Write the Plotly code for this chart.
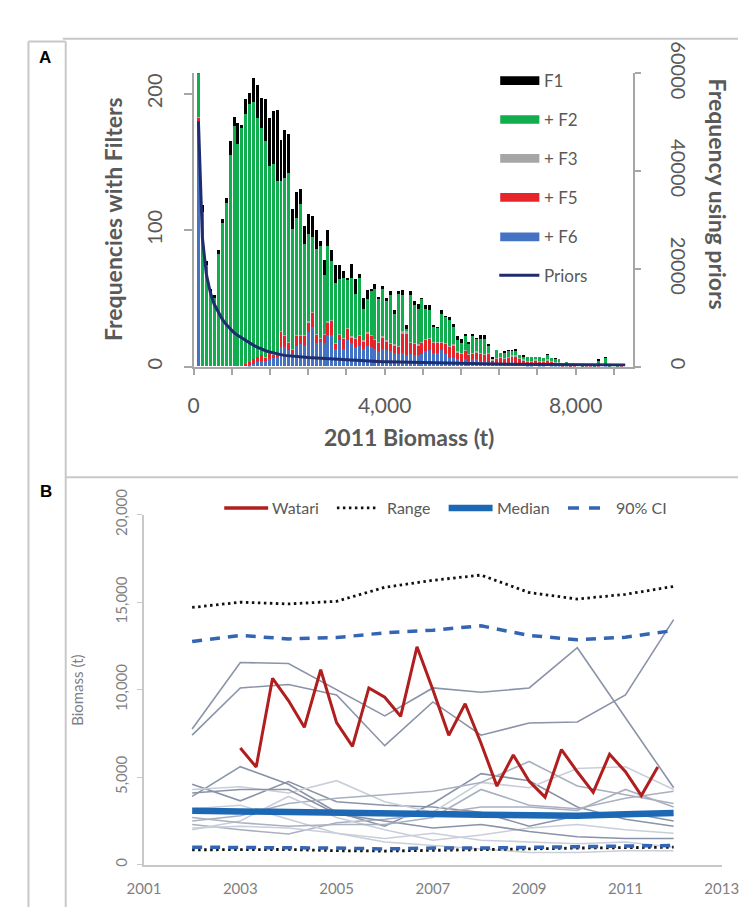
import plotly.graph_objects as go

W, H = 755, 910
def px(x): return x / W
def py(y): return 1 - y / H

FONT = "Lato"
GREY_TXT = "#595959"

# ---------------- Panel A data ----------------
bin_start = 100      # centre of first biomass bin (t)
bin_width = 82       # biomass bin width (t)

f1 = [240, 118, 77, 57, 52, 85, 108, 123, 165, 183,
      178, 177, 196, 200, 211, 206, 197, 196, 182, 187,
      188, 166, 173, 170, 115, 128, 130, 103, 112, 110,
      100, 92, 78, 100, 85, 74, 74, 70, 65, 75,
      64, 68, 50, 56, 57, 60, 51, 59, 50, 55,
      41, 55, 56, 30, 55, 48, 46, 50, 45, 45,
      30, 29, 41, 37, 36, 31, 22, 20, 24, 18,
      24, 21, 23, 23, 16, 7, 12, 10, 11, 12,
      12, 13, 8, 8, 7, 7, 7, 7, 6, 9,
      6, 6, 5, 2, 3, 1, 2, 0, 1, 2,
      2, 1, 5, 0, 7, 1, 0, 1, 2, 0]
f2 = [240, 113, 74, 54, 50, 82, 105, 120, 155, 176,
      163, 175, 185, 192, 194, 182, 175, 165, 147, 148,
      136, 136, 138, 142, 101, 109, 119, 90, 97, 95,
      86, 88, 67, 88, 77, 61, 64, 65, 63, 65,
      53, 65, 42, 49, 55, 57, 49, 57, 48, 52,
      38, 53, 52, 27, 52, 45, 42, 49, 42, 41,
      29, 28, 38, 36, 34, 29, 19, 17, 22, 16,
      22, 20, 20, 20, 15, 5, 12, 10, 10, 11,
      11, 11, 8, 7, 7, 7, 7, 7, 6, 8,
      6, 5, 5, 1, 3, 1, 2, 0, 1, 2,
      2, 1, 4, 0, 6, 1, 0, 1, 2, 0]
f3 = [183, 0, 0, 0, 0, 0, 0, 0, 0, 0,
      0, 0, 2, 3, 5, 7, 8, 7, 9, 9,
      9, 26, 23, 18, 13, 23, 23, 23, 33, 40,
      24, 21, 24, 33, 34, 17, 24, 21, 28, 22,
      21, 23, 19, 25, 23, 20, 18, 22, 19, 17,
      16, 15, 26, 26, 18, 17, 16, 18, 20, 21,
      18, 18, 18, 17, 15, 16, 11, 10, 12, 9,
      10, 11, 10, 9, 10, 5, 6, 7, 6, 7,
      8, 8, 6, 5, 4, 4, 5, 4, 4, 5,
      4, 3, 3, 2, 2, 1, 1, 0, 0, 1,
      1, 0, 1, 0, 2, 0, 0, 0, 1, 0]
f5 = [182, 0, 0, 0, 0, 0, 0, 0, 0, 0,
      0, 0, 2, 3, 5, 7, 8, 6, 9, 8,
      8, 25, 22, 17, 12, 22, 22, 22, 32, 39,
      23, 20, 23, 32, 33, 16, 23, 20, 27, 21,
      20, 22, 18, 24, 22, 19, 17, 21, 18, 16,
      15, 14, 24, 24, 17, 16, 15, 17, 19, 20,
      17, 17, 17, 16, 14, 15, 10, 9, 11, 8,
      9, 10, 9, 8, 9, 4, 5, 6, 5, 6,
      7, 7, 5, 4, 3, 3, 4, 3, 3, 4,
      3, 2, 2, 1, 2, 1, 1, 0, 0, 1,
      1, 0, 1, 0, 2, 0, 0, 0, 1, 0]
f6 = [180, 0, 0, 0, 0, 0, 0, 0, 0, 0,
      0, 0, 0, 1, 2, 3, 4, 4, 5, 6,
      7, 14, 14, 12, 9, 15, 16, 15, 25, 29,
      17, 18, 17, 23, 23, 13, 19, 13, 19, 17,
      14, 15, 13, 15, 14, 13, 11, 13, 12, 11,
      10, 9, 10, 8, 9, 8, 8, 9, 11, 12,
      10, 10, 12, 9, 6, 6, 5, 4, 5, 4,
      5, 5, 4, 4, 3, 2, 2, 2, 2, 2,
      3, 2, 2, 2, 1, 1, 2, 1, 1, 2,
      1, 1, 1, 0, 1, 0, 0, 0, 0, 0,
      0, 0, 0, 0, 1, 0, 0, 0, 0, 0]
priors = [50200, 26500, 19000, 15300, 12800, 11200, 9800, 8700, 7800, 7000,
          6400, 5900, 5300, 4800, 4400, 4000, 3600, 3300, 3050, 2800,
          2600, 2450, 2300, 2200, 2100, 2000, 1950, 1900, 1850, 1800,
          1750, 1700, 1650, 1600, 1550, 1500, 1450, 1400, 1350, 1300,
          1250, 1200, 1170, 1140, 1110, 1080, 1050, 1020, 1000, 980,
          950, 930, 910, 890, 870, 850, 830, 810, 790, 770,
          750, 730, 710, 700, 680, 670, 650, 640, 620, 610,
          600, 580, 570, 560, 550, 540, 530, 520, 510, 500,
          490, 480, 470, 460, 455, 450, 440, 430, 425, 420,
          410, 405, 400, 395, 390, 385, 380, 375, 370, 365,
          360, 355, 350, 345, 340, 335, 330, 325, 320, 315]

a_xticks = [0, 800, 1600, 2400, 3200, 4000, 4800, 5600, 6400, 7200, 8000, 8800]
a_xticktext = ["0", "", "", "", "", "4,000", "", "", "", "", "8,000", ""]
a_yticks = [0, 100, 200]
a_y2ticks = [0, 20000, 40000, 60000]
a_y2ticktext = ["0", "20000", "40000", "60000"]

# ---------------- Panel B data ----------------
years = [2002, 2003, 2004, 2005, 2006, 2007, 2008, 2009, 2010, 2011, 2012]
grey_runs = {
    "U1": [7750, 11550, 11500, 10000, 8500, 10100, 9850, 10100, 12400, 8400, 4400],
    "U2": [7400, 10100, 10300, 9700, 6800, 9300, 7400, 8100, 8150, 9700, 14000],
    "L1": [4600, 3650, 4750, 3600, 3400, 3300, 3000, 2200, 2800, 3000, 2500],
    "L2": [3900, 5600, 4600, 3000, 2200, 3500, 5200, 4800, 3300, 2600, 2200],
    "L3": [4300, 4450, 4100, 4800, 3600, 3000, 4700, 4400, 5500, 5600, 4300],
    "L4": [2500, 2800, 3500, 3800, 4000, 4200, 4700, 5900, 4500, 4000, 3500],
    "L5": [2300, 2000, 1750, 2400, 2600, 2900, 3300, 3300, 3100, 4300, 3300],
    "L6": [2000, 2500, 3900, 2700, 2000, 1400, 1700, 2100, 2300, 2000, 1800],
    "L7": [4100, 4300, 4300, 2900, 2500, 2100, 2300, 1900, 1600, 1500, 1500],
    "L8": [2100, 2200, 2100, 1800, 1500, 1800, 1400, 1300, 1200, 1300, 1000],
    "L9": [3200, 3400, 2600, 1800, 1300, 1100, 900, 700, 700, 800, 800],
    "L10": [2700, 2400, 2200, 2300, 2300, 2700, 4300, 3400, 3200, 3800, 4200],
}
grey_colors = {"U1": "#8A93A8", "U2": "#8A93A8", "L1": "#8A93A8", "L2": "#8A93A8",
               "L7": "#8A93A8", "L4": "#A9B0C0", "L5": "#A9B0C0", "L10": "#A9B0C0",
               "L3": "#C9CED9", "L6": "#C9CED9", "L8": "#C9CED9", "L9": "#C9CED9"}
range_hi = [14700, 15000, 14900, 15050, 15850, 16250, 16550, 15550, 15180, 15450, 15900]
range_lo = [850, 850, 870, 800, 780, 820, 840, 900, 950, 980, 1000]
ci_hi = [12750, 13100, 12900, 12980, 13250, 13400, 13650, 13100, 12850, 13000, 13380]
ci_lo = [1000, 1000, 1000, 950, 900, 950, 950, 1000, 1050, 1100, 1100]
median = [3080, 3060, 3040, 3010, 2960, 2900, 2850, 2780, 2800, 2880, 2950]
watari_t = [2003.0, 2003.33, 2003.67, 2004.0, 2004.33, 2004.67, 2005.0, 2005.33, 2005.67,
            2006.0, 2006.33, 2006.67, 2007.0, 2007.33, 2007.67, 2008.0, 2008.33, 2008.67,
            2009.0, 2009.33, 2009.67, 2010.0, 2010.33, 2010.67, 2011.0, 2011.33, 2011.67]
watari = [6670, 5580, 10650, 9380, 7850, 11140, 8120, 6760, 10100,
          9570, 8480, 12450, 10000, 7390, 9200, 6940, 4490, 6270,
          4770, 3860, 6580, 5310, 4130, 6310, 5310, 3950, 5580]
b_xticks = [2001, 2003, 2005, 2007, 2009, 2011, 2013]
b_yticks = [0, 5000, 10000, 15000, 20000]
b_yticktext = ["0", "5,000", "10,000", "15,000", "20,000"]

# ---------------- Figure ----------------
n = len(f1)
bin_centers = [bin_start + bin_width * i for i in range(n)]

fig = go.Figure()
bar_series = [("F1", f1, "#000000"), ("+ F2", f2, "#12AD4E"), ("+ F3", f3, "#A6A6A6"),
              ("+ F5", f5, "#E8242B"), ("+ F6", f6, "#4472C4")]
for name, vals, col in bar_series:
    fig.add_trace(go.Bar(x=bin_centers, y=vals, name=name, width=bin_width * 0.76,
                         marker=dict(color=col, line=dict(width=0)),
                         xaxis="x", yaxis="y", showlegend=False))
fig.add_trace(go.Scatter(x=bin_centers, y=priors, mode="lines", name="Priors",
                         line=dict(color="#1F2C6E", width=3),
                         xaxis="x", yaxis="y2", showlegend=False))

for key, vals in grey_runs.items():
    fig.add_trace(go.Scatter(x=years, y=vals, mode="lines",
                             line=dict(color=grey_colors[key], width=1.6),
                             xaxis="x3", yaxis="y3", showlegend=False))
for vals in (range_hi, range_lo):
    fig.add_trace(go.Scatter(x=years, y=vals, mode="lines",
                             line=dict(color="#111111", width=2.8, dash="2.5px,3.5px"),
                             xaxis="x3", yaxis="y3", showlegend=False))
for vals in (ci_hi, ci_lo):
    fig.add_trace(go.Scatter(x=years, y=vals, mode="lines",
                             line=dict(color="#3464B4", width=3.5, dash="10px,8px"),
                             xaxis="x3", yaxis="y3", showlegend=False))
fig.add_trace(go.Scatter(x=years, y=median, mode="lines",
                         line=dict(color="#1D68B4", width=6.5),
                         xaxis="x3", yaxis="y3", showlegend=False))
fig.add_trace(go.Scatter(x=watari_t, y=watari, mode="lines",
                         line=dict(color="#B11E1E", width=3),
                         xaxis="x3", yaxis="y3", showlegend=False))

axA = dict(showgrid=False, zeroline=False, showline=True, linecolor="#A6A6A6", linewidth=1.5,
           ticks="outside", tickcolor="#A6A6A6", tickwidth=1.5, ticklabeloverflow="allow",
           tickfont=dict(family=FONT, size=21, color=GREY_TXT))
axB = dict(showgrid=False, zeroline=False, showline=True, linecolor="#C8C8C8", linewidth=1.5,
           ticklabeloverflow="allow",
           tickfont=dict(family=FONT, size=15, color="#7F7F7F"))

fig.update_layout(
    width=W, height=H, margin=dict(l=0, r=0, t=0, b=0),
    paper_bgcolor="white", plot_bgcolor="rgba(0,0,0,0)",
    barmode="overlay", bargap=0, showlegend=False,
    xaxis=dict(axA, domain=[px(185), px(645)], range=[0, 9200], anchor="y",
               tickvals=a_xticks, ticktext=a_xticktext, ticklen=7, ticklabelstandoff=12),
    yaxis=dict(axA, domain=[py(348), py(43)], range=[0, 215], anchor="x",
               tickvals=a_yticks, tickangle=-90, ticklen=8, ticklabelstandoff=14,
               tickfont=dict(family=FONT, size=20, color=GREY_TXT)),
    yaxis2=dict(axA, overlaying="y", side="right", anchor="x", range=[0, 60000],
                tickvals=a_y2ticks, ticktext=a_y2ticktext, tickangle=90, ticklen=6,
                ticklabelstandoff=22,
                tickfont=dict(family=FONT, size=20, color=GREY_TXT)),
    xaxis3=dict(axB, domain=[px(133), px(738)], range=[2001, 2013], anchor="y3",
                tickvals=b_xticks, ticks="", ticklabelstandoff=10),
    yaxis3=dict(axB, domain=[py(866), py(502)], range=[0, 20000], anchor="x3",
                tickvals=b_yticks, ticktext=b_yticktext, tickangle=-90,
                ticks="outside", ticklen=5, tickcolor="#C8C8C8", ticklabelstandoff=4),
)

shapes = []
frame = dict(type="line", xref="paper", yref="paper", line=dict(color="#C8C8C8", width=2))
for (x0, y0, x1, y1) in [(48, 7, 755, 7), (12, 10, 51, 10), (12, 10, 12, 910),
                         (51, 10, 51, 910), (51, 463, 755, 463)]:
    shapes.append(dict(frame, x0=px(x0), y0=py(y0), x1=px(x1), y1=py(y1)))

annotations = []
def text(x, y, s, size, color=GREY_TXT, bold=False, angle=0, xanchor="center", family=FONT):
    annotations.append(dict(x=px(x), y=py(y), xref="paper", yref="paper", text=s,
                            showarrow=False, textangle=angle, xanchor=xanchor, yanchor="middle",
                            font=dict(family=family, size=size, color=color,
                                      weight="bold" if bold else "normal")))

# Panel A legend
legA = [("F1", "#000000", 50.5), ("+ F2", "#12AD4E", 91), ("+ F3", "#A6A6A6", 131.5),
        ("+ F5", "#E8242B", 172), ("+ F6", "#4472C4", 213)]
for lab, col, yy in legA:
    shapes.append(dict(type="rect", xref="paper", yref="paper", x0=px(506), x1=px(547),
                       y0=py(yy + 4.5), y1=py(yy - 4.5), fillcolor=col, line=dict(width=0)))
    text(550, yy, lab, 17, xanchor="left")
shapes.append(dict(type="line", xref="paper", yref="paper", x0=px(505), x1=px(547),
                   y0=py(253), y1=py(253), line=dict(color="#1F2C6E", width=3)))
text(550, 253, "Priors", 17, xanchor="left")

# Panel B legend
shapes.append(dict(type="line", xref="paper", yref="paper", x0=px(217), x1=px(263),
                   y0=py(495), y1=py(495), line=dict(color="#B11E1E", width=3.5)))
text(265, 495, "Watari", 16, xanchor="left")
shapes.append(dict(type="line", xref="paper", yref="paper", x0=px(335), x1=px(379),
                   y0=py(495), y1=py(495), line=dict(color="#111111", width=2.8, dash="2.5px,3.5px")))
text(385, 495, "Range", 16, xanchor="left")
shapes.append(dict(type="line", xref="paper", yref="paper", x0=px(452), x1=px(498),
                   y0=py(495), y1=py(495), line=dict(color="#1D68B4", width=6.5)))
text(501, 495, "Median", 16, xanchor="left")
shapes.append(dict(type="line", xref="paper", yref="paper", x0=px(577), x1=px(612),
                   y0=py(495), y1=py(495), line=dict(color="#3464B4", width=3.5, dash="11px,10px")))
text(625, 495, "90% CI", 16, xanchor="left")

# Titles
text(100, 194, "Frequencies with Filters", 23, bold=True, angle=-90)
text(735, 169, "Frequency using priors", 23, bold=True, angle=90)
text(411, 421, "2011 Biomass (t)", 23, bold=True)
text(62, 685, "Biomass (t)", 15, color="#7F7F7F", angle=-90)
text(29, 26, "A", 17, color="#000000", bold=True, family="Liberation Sans")
text(30, 478, "B", 17, color="#000000", bold=True, family="Liberation Sans")

fig.update_layout(shapes=shapes, annotations=annotations)
fig.write_html("out.html")
